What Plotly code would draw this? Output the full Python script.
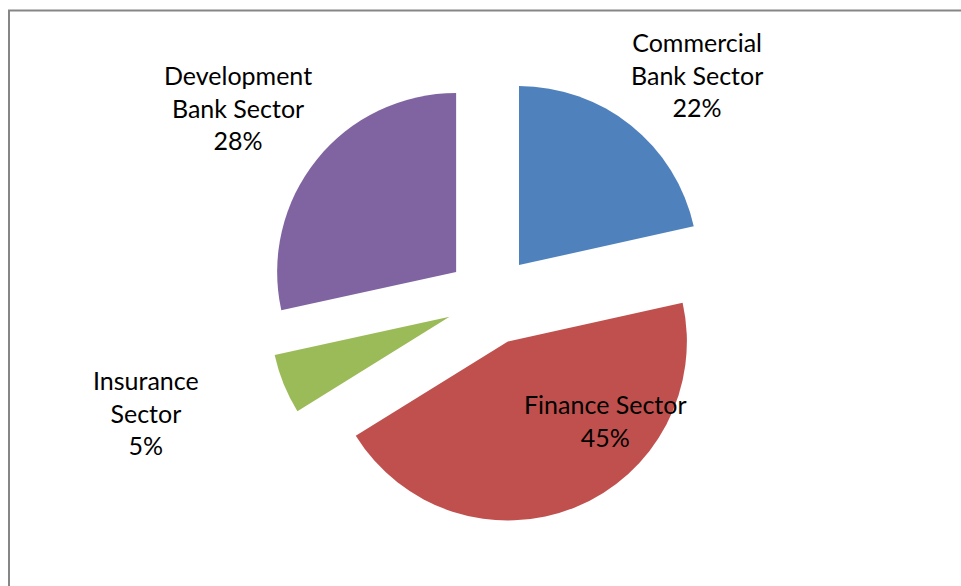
import plotly.graph_objects as go

# Share of each sector (percent)
sectors = ["Commercial Bank Sector", "Finance Sector", "Insurance Sector", "Development Bank Sector"]
label_lines = ["Commercial<br>Bank Sector", "Finance Sector", "Insurance<br>Sector", "Development<br>Bank Sector"]
shares = [21.5, 44.6, 5.4, 28.4]
colors = ["#4F81BD", "#C0504D", "#9BBB59", "#8064A2"]

W, H = 961, 586
# label anchor points in pixels (centre of each text block)
label_px = [(697, 74), (605, 420), (146, 412), (238, 108)]

# pie placement: centre and unexploded radius in pixels
cx, cy, radius, pull = 491, 300, 179, 0.25
half = radius * (1 + pull)

fig = go.Figure(go.Pie(
    labels=sectors,
    values=shares,
    marker=dict(colors=colors, line=dict(width=0)),
    sort=False,
    direction="clockwise",
    rotation=0,
    pull=[pull] * len(shares),
    textinfo="none",
    hoverinfo="label+percent",
    domain=dict(
        x=[(cx - half) / W, (cx + half) / W],
        y=[1 - (cy + half) / H, 1 - (cy - half) / H],
    ),
))

total = sum(shares)
for text, val, (px, py) in zip(label_lines, shares, label_px):
    fig.add_annotation(
        x=px / W, y=1 - py / H, xref="paper", yref="paper",
        text=f"{text}<br>{round(100 * val / total)}%",
        showarrow=False, xanchor="center", yanchor="middle",
        font=dict(family="Lato, Carlito, sans-serif", size=25, color="#000000"),
    )

# chart frame
fig.add_shape(type="rect", xref="paper", yref="paper",
              x0=9 / W, y0=-0.05, x1=1.05, y1=1 - 10.5 / H,
              line=dict(color="#868686", width=2), fillcolor="rgba(0,0,0,0)")

fig.update_layout(
    width=W, height=H,
    margin=dict(l=0, r=0, t=0, b=0),
    paper_bgcolor="white", plot_bgcolor="white",
    showlegend=False,
)

fig.write_html("out.html")
